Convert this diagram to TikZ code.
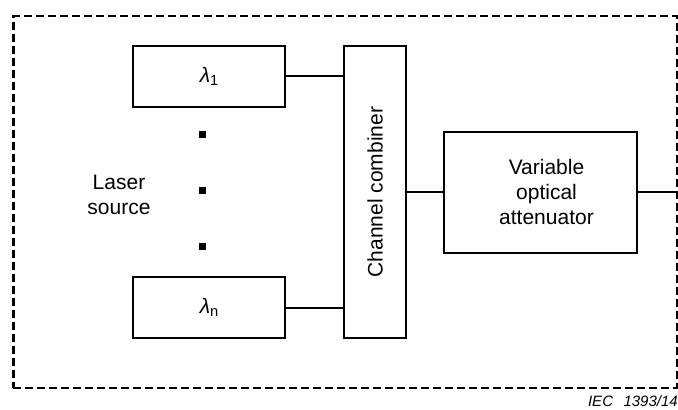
\documentclass[tikz,border=0pt]{standalone}
\usepackage{fontspec}
\setmainfont{Liberation Sans}
\usepackage{graphicx}
\usepackage{tikz}
\usetikzlibrary{positioning,calc}
\newcommand{\bigtxt}{\fontsize{21}{25}\selectfont}
\tikzset{
  blk/.style    = {draw, line width=2pt, inner sep=0pt, align=center, font=\bigtxt},
  lbl/.style    = {align=center, inner sep=0pt, font=\bigtxt},
  conn/.style   = {line width=2pt},
  frame/.style  = {draw, line width=2.4pt, dash pattern=on 8pt off 4pt, inner sep=0pt},
  dotsq/.style  = {fill=black, inner sep=0pt, minimum size=6.5pt},
}
\newcommand{\lam}[1]{{\bigtxt\itshape λ}{\bigtxt\textsubscript{#1}}}

\begin{document}
\begin{tikzpicture}[x=1pt,y=-1pt]
  \useasboundingbox (0,0) rectangle (678,410);
  \node[frame, minimum width=663.4pt, minimum height=371.7pt] (frame) at (345,201.9) {};
  \node[blk, minimum width=152pt, minimum height=60.7pt] (las1) at (209.3,76.3) {\lam{1}};
  \node[blk, minimum width=152pt, minimum height=60.7pt] (lasn) at (209.3,307.7) {\lam{n}};
  \foreach \y/\n in {134.3/1,190.3/2,246.7/3}
    \node[dotsq] (dot\n) at (202.3,\y) {};
  \node[lbl] (lsrc) at (119,195) {Laser\\source};
  \node[blk, minimum width=61.4pt, minimum height=292pt] (comb) at (375,192) {\rotatebox{90}{\bigtxt Channel combiner}};
  \node[blk, minimum width=192.4pt, minimum height=121pt] (voa) at (540.5,192.2) {};
  \node[lbl] (voatxt) at ([xshift=6pt]voa.center) {Variable\\optical\\attenuator};
  \node[anchor=base east, inner sep=0pt, font=\itshape\fontsize{15}{17}\selectfont] (iec) at (678,406.5) {IEC\hspace{0.7em}1393/14};
  \draw[conn] (las1.east) -- (las1.east -| comb.west);
  \draw[conn] (lasn.east) -- (lasn.east -| comb.west);
  \draw[conn] (comb.east |- voa.west) -- (voa.west);
  \draw[conn] (voa.east) -- (voa.east -| frame.east);
\end{tikzpicture}
\end{document}
